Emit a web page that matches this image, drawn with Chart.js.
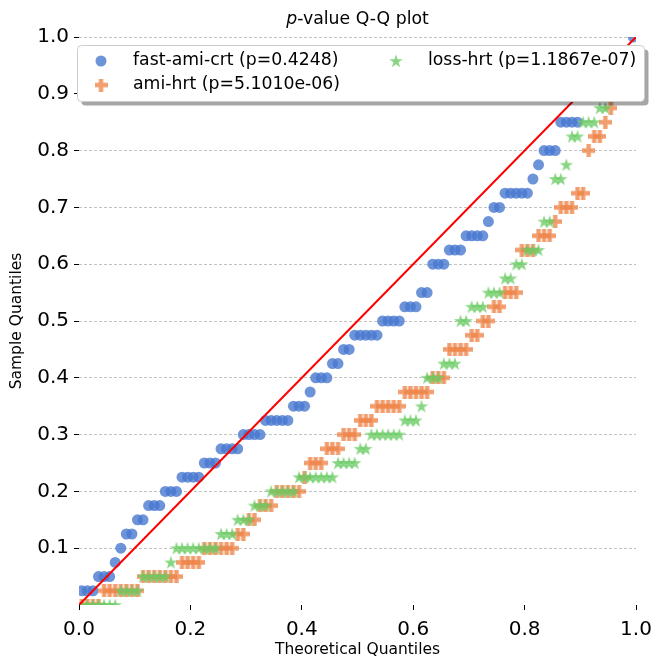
<!DOCTYPE html>
<html>
<head>
<meta charset="utf-8">
<script src="https://cdn.jsdelivr.net/npm/chart.js@4"></script>
<style>
  html, body { margin: 0; padding: 0; background: #fff; }
  #wrap { width: 661px; height: 658px; }
</style>
</head>
<body>
<div id="wrap"><canvas id="qq" width="661" height="658"></canvas></div>
<script>
// theoretical quantiles, shared by all three series
const theoretical = [
  0.005, 0.015, 0.025, 0.035, 0.045, 0.055, 0.065, 0.075, 0.085, 0.095,
  0.105, 0.115, 0.125, 0.135, 0.145, 0.155, 0.165, 0.175, 0.185, 0.195,
  0.205, 0.215, 0.225, 0.235, 0.245, 0.255, 0.265, 0.275, 0.285, 0.295,
  0.305, 0.315, 0.325, 0.335, 0.345, 0.355, 0.365, 0.375, 0.385, 0.395,
  0.405, 0.415, 0.425, 0.435, 0.445, 0.455, 0.465, 0.475, 0.485, 0.495,
  0.505, 0.515, 0.525, 0.535, 0.545, 0.555, 0.565, 0.575, 0.585, 0.595,
  0.605, 0.615, 0.625, 0.635, 0.645, 0.655, 0.665, 0.675, 0.685, 0.695,
  0.705, 0.715, 0.725, 0.735, 0.745, 0.755, 0.765, 0.775, 0.785, 0.795,
  0.805, 0.815, 0.825, 0.835, 0.845, 0.855, 0.865, 0.875, 0.885, 0.895,
  0.905, 0.915, 0.925, 0.935, 0.945, 0.955, 0.965, 0.975, 0.985, 0.995
];

// sample quantiles
const fastAmiCrt = [
  0.025, 0.025, 0.025, 0.05, 0.05, 0.05, 0.075, 0.1, 0.125, 0.125,
  0.15, 0.15, 0.175, 0.175, 0.175, 0.2, 0.2, 0.2, 0.225, 0.225,
  0.225, 0.225, 0.25, 0.25, 0.25, 0.275, 0.275, 0.275, 0.275, 0.3,
  0.3, 0.3, 0.3, 0.325, 0.325, 0.325, 0.325, 0.325, 0.35, 0.35,
  0.35, 0.375, 0.4, 0.4, 0.4, 0.425, 0.425, 0.45, 0.45, 0.475,
  0.475, 0.475, 0.475, 0.475, 0.5, 0.5, 0.5, 0.5, 0.525, 0.525,
  0.525, 0.55, 0.55, 0.6, 0.6, 0.6, 0.625, 0.625, 0.625, 0.65,
  0.65, 0.65, 0.65, 0.675, 0.7, 0.7, 0.725, 0.725, 0.725, 0.725,
  0.725, 0.75, 0.775, 0.8, 0.8, 0.8, 0.85, 0.85, 0.85, 0.85,
  0.9, 0.9, 0.925, 0.925, 0.925, 0.95, 0.95, 0.975, 0.975, 1.0
];
const amiHrt = [
  0, 0, 0, 0, 0.025, 0.025, 0.025, 0.025, 0.025, 0.025,
  0.025, 0.05, 0.05, 0.05, 0.05, 0.05, 0.05, 0.05, 0.075, 0.075,
  0.075, 0.075, 0.1, 0.1, 0.1, 0.1, 0.1, 0.1, 0.125, 0.125,
  0.15, 0.15, 0.175, 0.175, 0.175, 0.2, 0.2, 0.2, 0.2, 0.2,
  0.225, 0.25, 0.25, 0.25, 0.275, 0.275, 0.275, 0.3, 0.3, 0.3,
  0.325, 0.325, 0.325, 0.35, 0.35, 0.35, 0.35, 0.35, 0.375, 0.375,
  0.375, 0.375, 0.375, 0.4, 0.4, 0.4, 0.45, 0.45, 0.45, 0.45,
  0.475, 0.475, 0.5, 0.5, 0.525, 0.525, 0.55, 0.55, 0.55, 0.625,
  0.625, 0.625, 0.65, 0.65, 0.65, 0.675, 0.7, 0.7, 0.7, 0.725,
  0.725, 0.8, 0.825, 0.825, 0.85, 0.875, 0.9, 0.925, 0.95, 0.975
];
const lossHrt = [
  0, 0, 0, 0, 0, 0, 0, 0.025, 0.025, 0.025,
  0.025, 0.05, 0.05, 0.05, 0.05, 0.05, 0.075, 0.1, 0.1, 0.1,
  0.1, 0.1, 0.1, 0.1, 0.1, 0.125, 0.125, 0.125, 0.15, 0.15,
  0.15, 0.175, 0.175, 0.175, 0.2, 0.2, 0.2, 0.2, 0.2, 0.225,
  0.225, 0.225, 0.225, 0.225, 0.225, 0.225, 0.25, 0.25, 0.25, 0.25,
  0.275, 0.275, 0.3, 0.3, 0.3, 0.3, 0.3, 0.3, 0.325, 0.325,
  0.325, 0.35, 0.4, 0.4, 0.4, 0.425, 0.425, 0.425, 0.5, 0.5,
  0.525, 0.525, 0.525, 0.55, 0.55, 0.55, 0.575, 0.575, 0.6, 0.6,
  0.625, 0.625, 0.625, 0.675, 0.675, 0.75, 0.75, 0.775, 0.825, 0.825,
  0.85, 0.85, 0.85, 0.875, 0.875, 0.9, 0.925, 0.95, 0.975, 0.975
];

const seriesLabels = ['fast-ami-crt (p=0.4248)', 'ami-hrt (p=5.1010e-06)', 'loss-hrt (p=1.1867e-07)'];
const refLine = [0, 1];  // 45 degree reference line end points
const xTicks = [0, 0.2, 0.4, 0.6, 0.8, 1.0];
const yTicks = [0.1, 0.2, 0.3, 0.4, 0.5, 0.6, 0.7, 0.8, 0.9, 1.0];

const FONT = '"DejaVu Sans", "Liberation Sans", sans-serif';
const BLUE = 'rgba(72, 120, 208, 0.8)';
const ORANGE = 'rgba(238, 133, 74, 0.8)';
const GREEN = 'rgba(106, 204, 100, 0.8)';

// filled plus marker (matplotlib 'P')
function makePlus(color, size) {
  const c = document.createElement('canvas');
  c.width = size; c.height = size;
  const g = c.getContext('2d');
  const t = size / 3;
  g.fillStyle = color;
  g.beginPath();
  g.moveTo(t, 0); g.lineTo(2 * t, 0); g.lineTo(2 * t, t); g.lineTo(size, t);
  g.lineTo(size, 2 * t); g.lineTo(2 * t, 2 * t); g.lineTo(2 * t, size); g.lineTo(t, size);
  g.lineTo(t, 2 * t); g.lineTo(0, 2 * t); g.lineTo(0, t); g.lineTo(t, t);
  g.closePath();
  g.fill();
  return c;
}

// filled five point star marker (matplotlib '*')
function makeStar(color, size) {
  const c = document.createElement('canvas');
  c.width = size; c.height = size;
  const g = c.getContext('2d');
  const R = size / 2, r = R * 0.382, cx = size / 2, cy = size / 2 + 0.5;
  g.fillStyle = color;
  g.beginPath();
  for (let k = 0; k < 10; k++) {
    const rad = k % 2 === 0 ? R : r;
    const a = -Math.PI / 2 + k * Math.PI / 5;
    const px = cx + rad * Math.cos(a), py = cy + rad * Math.sin(a);
    if (k === 0) g.moveTo(px, py); else g.lineTo(px, py);
  }
  g.closePath();
  g.fill();
  return c;
}

const plusMarker = makePlus(ORANGE, 13);
const starMarker = makeStar(GREEN, 14);

function toPoints(ys) {
  return theoretical.map((x, i) => ({ x: x, y: ys[i] }));
}

function roundRect(ctx, x, y, w, h, r) {
  ctx.beginPath();
  ctx.moveTo(x + r, y);
  ctx.lineTo(x + w - r, y);
  ctx.arcTo(x + w, y, x + w, y + r, r);
  ctx.lineTo(x + w, y + h - r);
  ctx.arcTo(x + w, y + h, x + w - r, y + h, r);
  ctx.lineTo(x + r, y + h);
  ctx.arcTo(x, y + h, x, y + h - r, r);
  ctx.lineTo(x, y + r);
  ctx.arcTo(x, y, x + r, y, r);
  ctx.closePath();
}

// title, axis titles and the two column legend
const overlay = {
  id: 'overlay',
  afterDraw(chart) {
    const ctx = chart.ctx;
    const area = chart.chartArea;
    const cx = (area.left + area.right) / 2;
    ctx.save();
    ctx.fillStyle = '#000';
    ctx.textBaseline = 'alphabetic';
    ctx.textAlign = 'left';

    // title with italic p
    ctx.font = 'italic 17.3px ' + FONT;
    const pW = ctx.measureText('p').width;
    ctx.font = '17.3px ' + FONT;
    const rest = '-value Q-Q plot';
    const restW = ctx.measureText(rest).width;
    const tx = cx - (pW + restW) / 2;
    ctx.font = 'italic 17.3px ' + FONT;
    ctx.fillText('p', tx, 24);
    ctx.font = '17.3px ' + FONT;
    ctx.fillText(rest, tx + pW, 24);

    // axis titles
    ctx.font = '15.5px ' + FONT;
    ctx.textAlign = 'center';
    ctx.textBaseline = 'middle';
    ctx.fillText('Theoretical Quantiles', cx, 650);
    ctx.save();
    ctx.translate(17, (area.top + area.bottom) / 2);
    ctx.rotate(-Math.PI / 2);
    ctx.fillText('Sample Quantiles', 0, 0);
    ctx.restore();

    // legend frame with shadow
    const bx = 77.5, by = 45.5, bw = 567, bh = 56;
    ctx.fillStyle = 'rgba(0, 0, 0, 0.35)';
    roundRect(ctx, bx + 4, by + 4, bw, bh, 4);
    ctx.fill();
    ctx.fillStyle = '#fff';
    roundRect(ctx, bx, by, bw, bh, 4);
    ctx.fill();
    ctx.strokeStyle = '#cccccc';
    ctx.lineWidth = 1;
    ctx.stroke();

    const entries = [
      { x: 101, y: 61, label: seriesLabels[0], kind: 'circle' },
      { x: 101, y: 85, label: seriesLabels[1], kind: 'plus' },
      { x: 396, y: 61, label: seriesLabels[2], kind: 'star' }
    ];
    ctx.font = '17.3px ' + FONT;
    ctx.textAlign = 'left';
    ctx.textBaseline = 'middle';
    entries.forEach(e => {
      if (e.kind === 'circle') {
        ctx.fillStyle = BLUE;
        ctx.beginPath();
        ctx.arc(e.x, e.y, 5.5, 0, Math.PI * 2);
        ctx.fill();
      } else {
        const img = e.kind === 'plus' ? plusMarker : starMarker;
        ctx.drawImage(img, e.x - img.width / 2, e.y - img.height / 2);
      }
      ctx.fillStyle = '#000';
      ctx.fillText(e.label, e.x + 32, e.y);
    });
    ctx.restore();
  }
};

new Chart(document.getElementById('qq'), {
  type: 'scatter',
  data: {
    datasets: [
      {
        label: seriesLabels[0],
        data: toPoints(fastAmiCrt),
        pointStyle: 'circle',
        pointRadius: 5.5,
        pointBackgroundColor: BLUE,
        pointBorderWidth: 0,
        order: 4
      },
      {
        label: seriesLabels[1],
        data: toPoints(amiHrt),
        pointStyle: plusMarker,
        order: 3
      },
      {
        label: seriesLabels[2],
        data: toPoints(lossHrt),
        pointStyle: starMarker,
        order: 2
      },
      {
        type: 'line',
        label: 'reference',
        data: refLine.map(v => ({ x: v, y: v })),
        borderColor: '#ff0000',
        borderWidth: 2,
        pointRadius: 0,
        order: 1
      }
    ]
  },
  options: {
    responsive: false,
    animation: false,
    layout: { padding: { left: 0, right: 25, top: 37, bottom: 0 } },
    plugins: {
      legend: { display: false },
      title: { display: false },
      tooltip: { enabled: false }
    },
    scales: {
      x: {
        type: 'linear',
        min: 0,
        max: 1,
        afterBuildTicks: s => { s.ticks = xTicks.map(v => ({ value: v })); },
        afterFit: s => { s.height = 53; },
        border: { display: false },
        grid: { drawOnChartArea: false, drawTicks: true, tickLength: 5, tickColor: '#000', tickWidth: 1 },
        ticks: {
          color: '#000',
          padding: 8,
          maxRotation: 0,
          font: { family: FONT, size: 20 },
          callback: v => Number(v).toFixed(1)
        }
      },
      y: {
        type: 'linear',
        min: 0,
        max: 1,
        afterBuildTicks: s => { s.ticks = yTicks.map(v => ({ value: v })); },
        afterFit: s => { s.width = 79; },
        border: { display: false, dash: [3, 2] },
        grid: { color: 'rgba(0, 0, 0, 0.3)', lineWidth: 0.8, drawTicks: true, tickLength: 5, tickColor: '#000', tickWidth: 1 },
        ticks: {
          color: '#000',
          padding: 5,
          font: { family: FONT, size: 20 },
          callback: v => Number(v).toFixed(1)
        }
      }
    }
  },
  plugins: [overlay]
});
</script>
</body>
</html>
